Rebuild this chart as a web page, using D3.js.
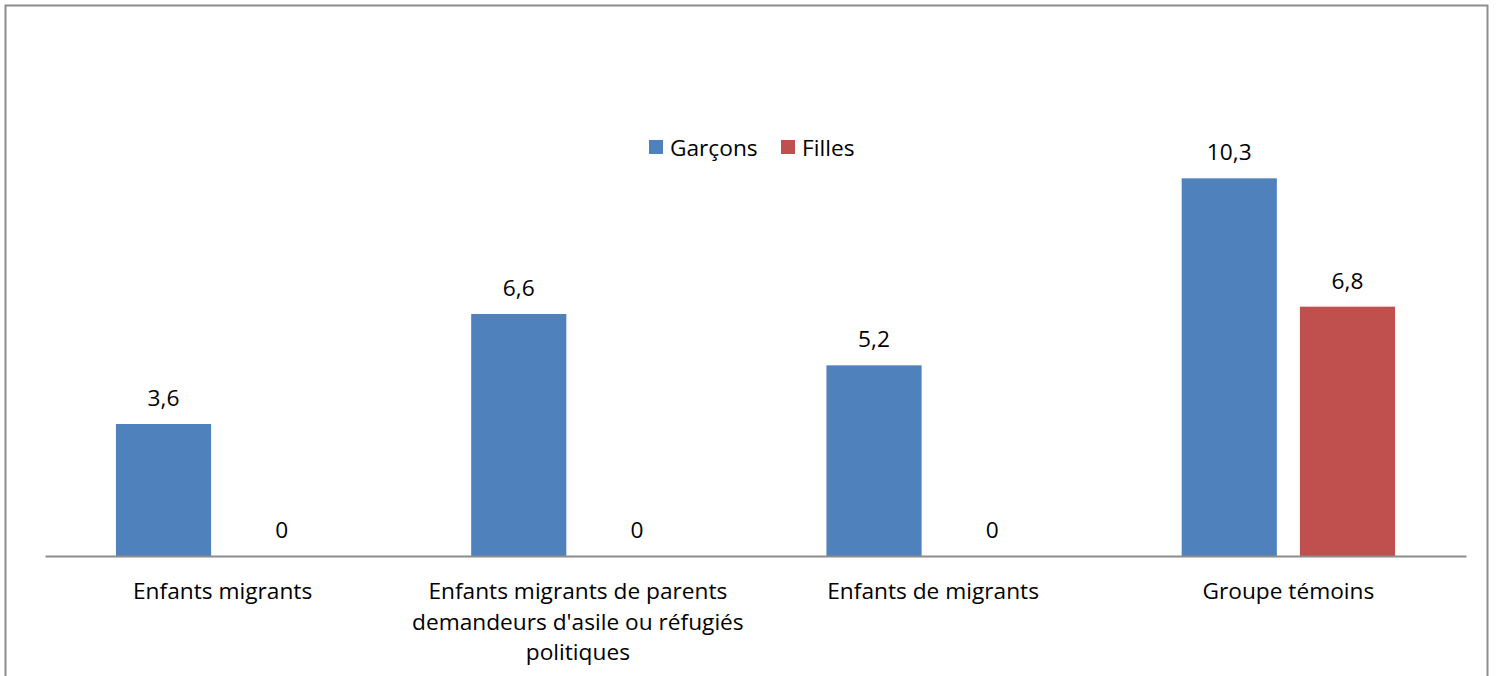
<!DOCTYPE html>
<html>
<head>
<meta charset="utf-8">
<script src="https://cdn.jsdelivr.net/npm/d3@7"></script>
<style>
  html, body { margin: 0; padding: 0; background: #fff; }
  svg text { font-family: "Open Sans", Lato, sans-serif; fill: #000; }
</style>
</head>
<body>
<svg id="chart" width="1496" height="676"></svg>
<script>
// Category labels (split into lines as printed under the axis)
const categories = [
  ["Enfants migrants"],
  ["Enfants migrants de parents", "demandeurs d'asile ou réfugiés", "politiques"],
  ["Enfants de migrants"],
  ["Groupe témoins"]
];
const seriesNames = ["Garçons", "Filles"];
const garcons = [3.6, 6.6, 5.2, 10.3];
const filles = [0, 0, 0, 6.8];
const colors = ["#4f81bd", "#c0504d"];

const fontSize = "22.7px";
const svg = d3.select("#chart");

// Outer frame
svg.append("rect")
  .attr("x", 5.5).attr("y", 5.5)
  .attr("width", 1482).attr("height", 700)
  .attr("fill", "none").attr("stroke", "#8c8c8c").attr("stroke-width", 2);

const plot = { left: 45, right: 1466, top: 116, bottom: 556 };

const x0 = d3.scaleBand()
  .domain(d3.range(categories.length))
  .range([plot.left, plot.right])
  .paddingInner(0).paddingOuter(0);

const x1 = d3.scaleBand()
  .domain(d3.range(seriesNames.length))
  .range([0, x0.bandwidth()])
  .paddingInner(0.195).paddingOuter(0.6);

const y = d3.scaleLinear().domain([0, 12]).range([plot.bottom, plot.top]);

const rows = categories.map((c, i) => [garcons[i], filles[i]]);

const groups = svg.append("g").selectAll("g")
  .data(rows).join("g")
  .attr("transform", (d, i) => `translate(${x0(i)},0)`);

groups.selectAll("rect")
  .data(d => d.map((v, s) => ({ v, s })))
  .join("rect")
  .attr("x", d => x1(d.s))
  .attr("width", x1.bandwidth())
  .attr("y", d => y(d.v))
  .attr("height", d => y(0) - y(d.v))
  .attr("fill", d => colors[d.s]);

groups.selectAll("text.val")
  .data(d => d.map((v, s) => ({ v, s })))
  .join("text")
  .attr("class", "val")
  .attr("x", d => x1(d.s) + x1.bandwidth() / 2)
  .attr("y", d => y(d.v) - 18)
  .attr("text-anchor", "middle")
  .style("font-size", fontSize)
  .text(d => String(d.v).replace(".", ","));

// Category axis
const axis = svg.append("g")
  .attr("transform", `translate(0,${plot.bottom})`)
  .call(d3.axisBottom(x0).tickSize(0).tickFormat(""));
axis.select(".domain").attr("stroke", "#8c8c8c").attr("stroke-width", 2);

const labels = svg.append("g").selectAll("text")
  .data(categories).join("text")
  .attr("x", (d, i) => x0(i) + x0.bandwidth() / 2)
  .attr("y", 599)
  .attr("text-anchor", "middle")
  .style("font-size", fontSize);
labels.selectAll("tspan")
  .data(d => d).join("tspan")
  .attr("x", function () { return d3.select(this.parentNode).attr("x"); })
  .attr("dy", (d, i) => i === 0 ? 0 : 30.5)
  .text(d => d);

// Legend
const legendItems = [
  { name: seriesNames[0], x: 649 },
  { name: seriesNames[1], x: 781 }
];
const legend = svg.append("g").selectAll("g")
  .data(legendItems).join("g")
  .attr("transform", d => `translate(${d.x},140)`);
legend.append("rect")
  .attr("width", 14).attr("height", 14)
  .attr("fill", (d, i) => colors[i]);
legend.append("text")
  .attr("x", 21).attr("y", 16)
  .style("font-size", fontSize)
  .text(d => d.name);
</script>
</body>
</html>
